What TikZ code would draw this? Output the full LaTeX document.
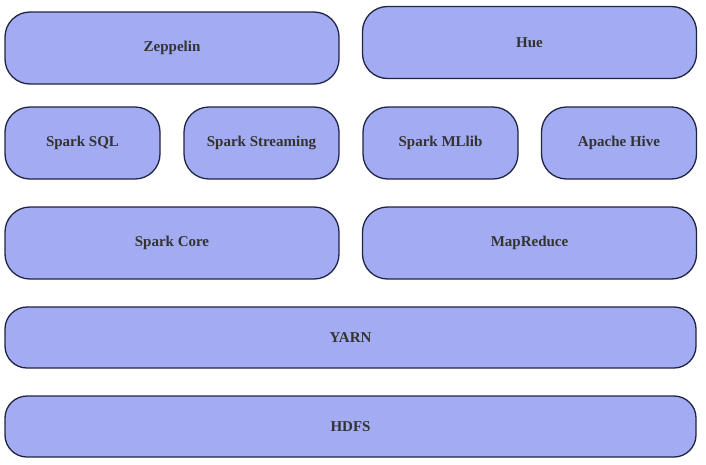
\documentclass[tikz,border=0pt]{standalone}
\usepackage{fontspec}
\setmainfont{Liberation Serif}
\definecolor{boxfill}{HTML}{A3ACF2}
\definecolor{boxline}{HTML}{1F2440}
\definecolor{boxtext}{HTML}{333333}
\begin{document}
\begin{tikzpicture}[x=1pt,y=-1pt,
  every node/.style={font=\fontsize{15}{18}\selectfont\bfseries, text=boxtext}
]

\tikzset{
    caixa/.style={draw=boxline, fill=boxfill, line width=1.3pt, rounded corners=25pt, inner sep=0pt},
    larga/.style={caixa, minimum width=334pt, minimum height=72pt},
    curta/.style={caixa, minimum width=155pt, minimum height=72pt},
    base/.style={caixa, minimum width=691pt, minimum height=61pt, rounded corners=22pt}
}

\useasboundingbox (0,0) rectangle (706,464);

% Topo
\node[larga] (zeppelin) at (172,48) {Zeppelin};
\node[larga] (hue) at (529.5,42.5) {Hue};

% Bibliotecas
\node[curta] (sql) at (82.5,143) {Spark SQL};
\node[curta] (streaming) at (261.5,143) {Spark Streaming};
\node[curta] (mllib) at (440.5,143) {Spark MLlib};
\node[curta] (hive) at (619,143) {Apache Hive};

% Motores
\node[larga] (core) at (172,243) {Spark Core};
\node[larga] (mapreduce) at (529.5,243) {MapReduce};

% Recursos e armazenamento
\node[base] (yarn) at (350.5,337.5) {YARN};
\node[base] (hdfs) at (350.5,426.5) {HDFS};

\end{tikzpicture}
\end{document}
